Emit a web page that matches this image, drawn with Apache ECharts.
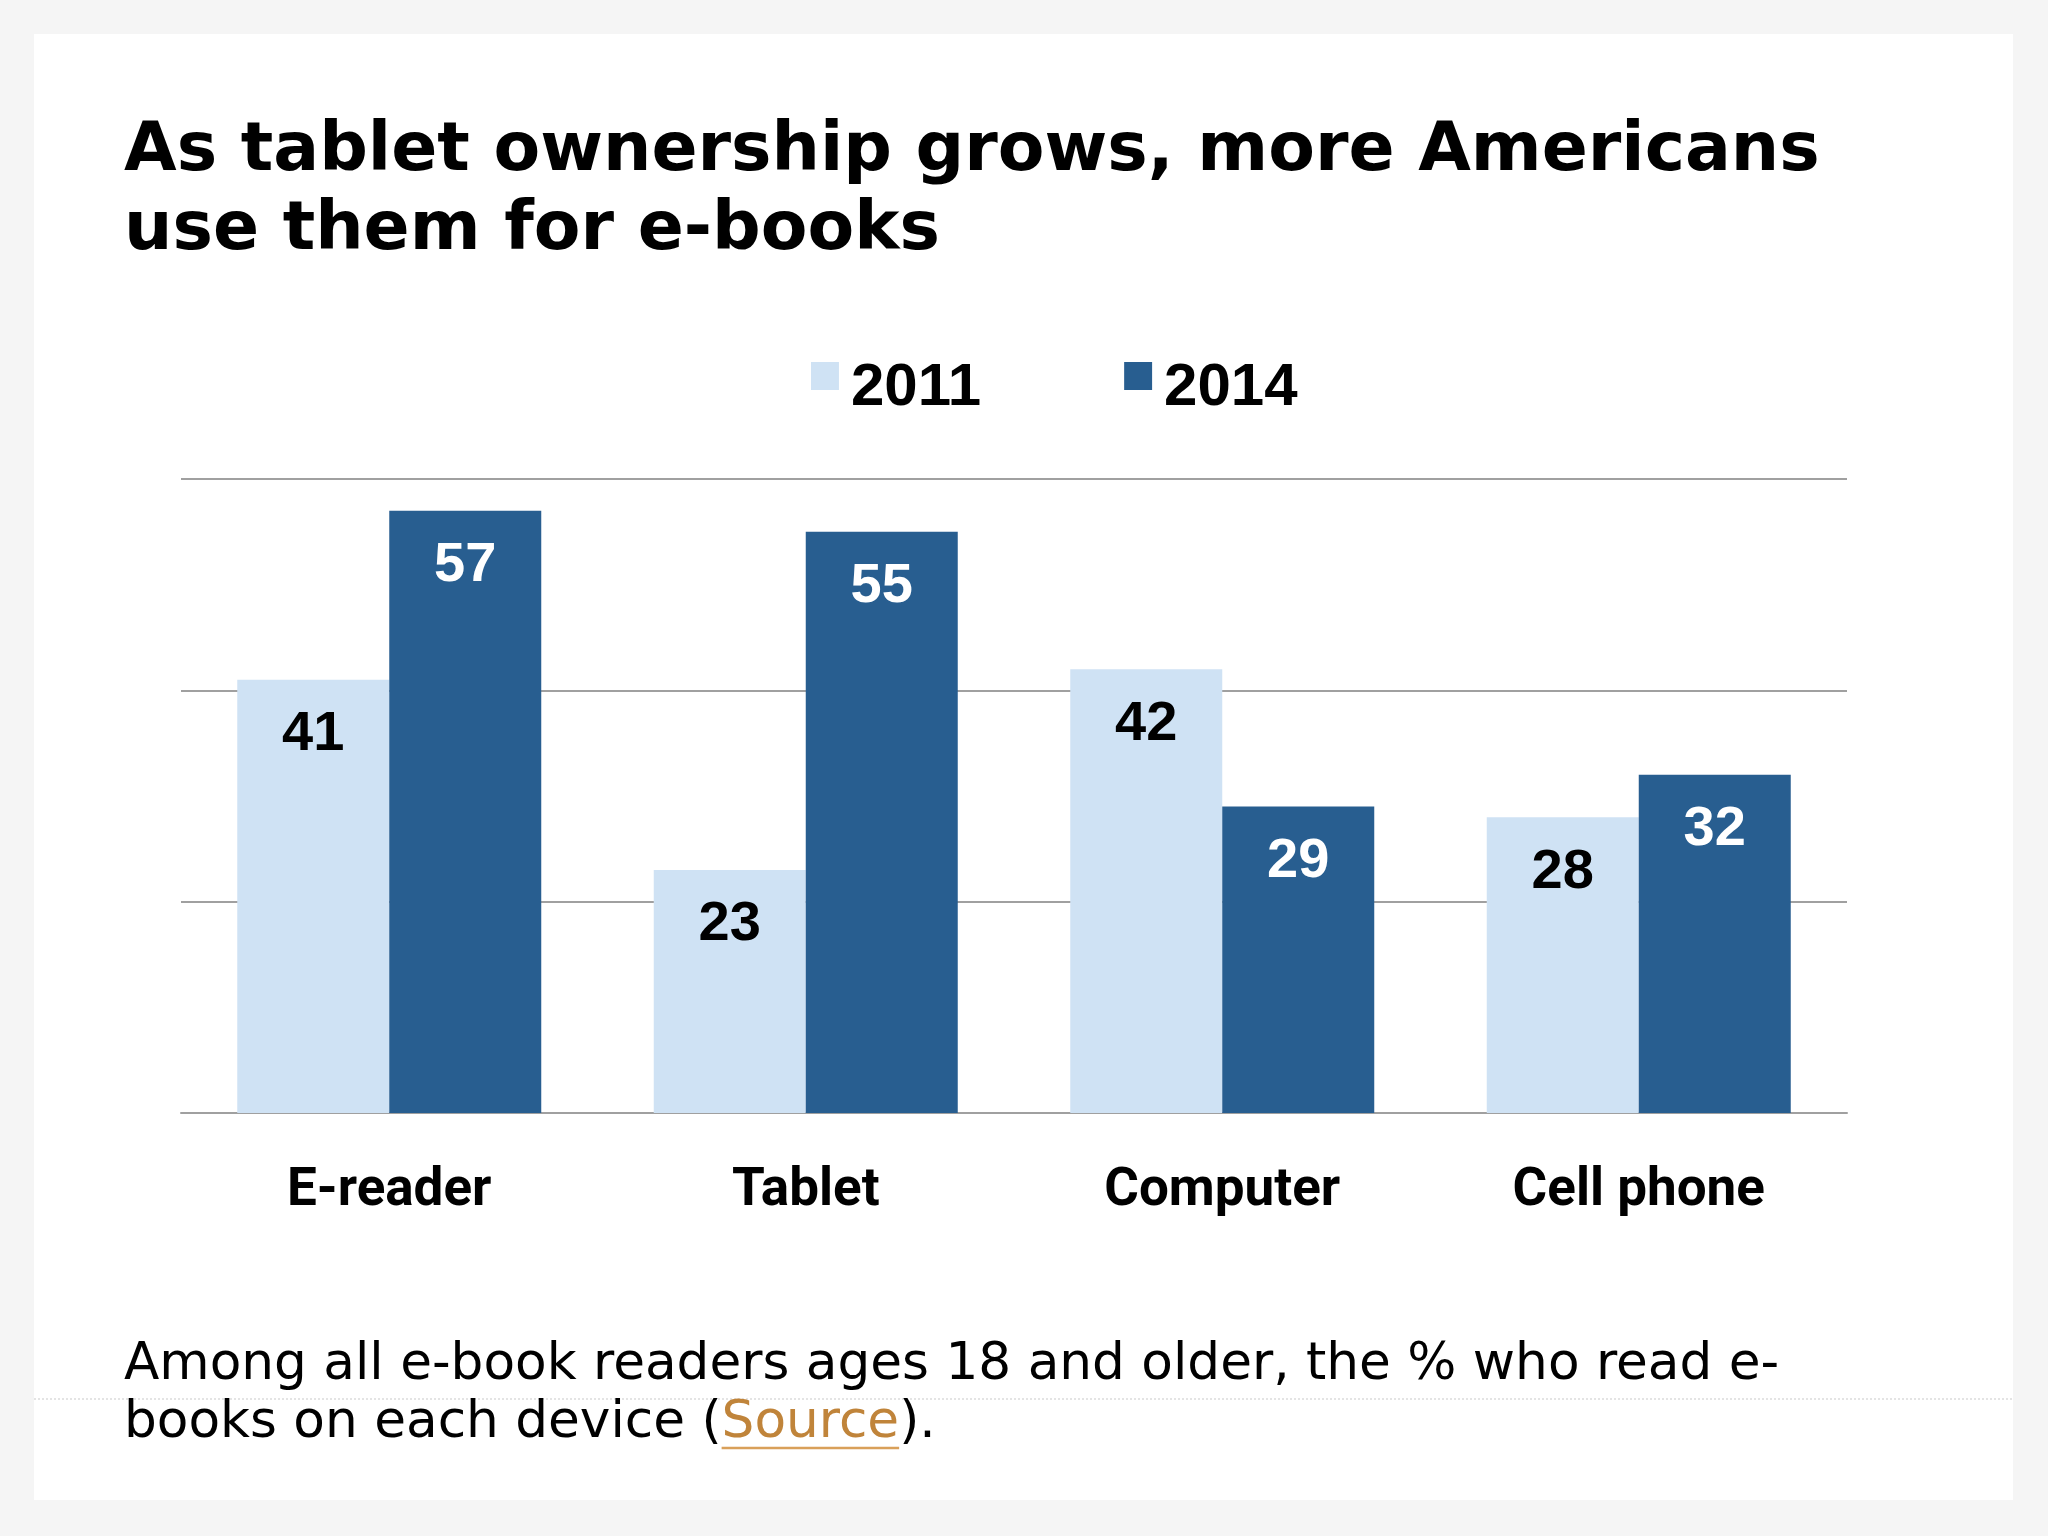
<!DOCTYPE html>
<html>
<head>
<meta charset="utf-8">
<script src="https://cdn.jsdelivr.net/npm/echarts@6/dist/echarts.min.js"></script>
<style>
html,body{margin:0;padding:0;background:#f5f5f5;}
#chart{width:2048px;height:1536px;}
</style>
</head>
<body>
<div id="chart"></div>
<script>
var categories = ['E-reader', 'Tablet', 'Computer', 'Cell phone'];
var seriesNames = ['2011', '2014'];
var values2011 = [41, 23, 42, 28];
var values2014 = [57, 55, 29, 32];
var titleText = 'As tablet ownership grows, more Americans\nuse them for e-books';
var noteLine1 = 'Among all e-book readers ages 18 and older, the % who read e-';
var noteLine2a = 'books on each device (';
var noteLink = 'Source';
var noteLine2b = ').';

var noteFont = '51.7px "DejaVu Sans"';
var cv = document.createElement('canvas').getContext('2d');
cv.font = noteFont;
var prefixW = cv.measureText(noteLine2a).width;
var linkW = cv.measureText(noteLink).width;
var noteX = 124;

var chart = echarts.init(document.getElementById('chart'));
chart.setOption({
  backgroundColor: '#f5f5f5',
  animation: false,
  graphic: [
    { type: 'rect', z: -10, shape: { x: 34, y: 34, width: 1979, height: 1466 }, style: { fill: '#ffffff' } },
    { type: 'line', z: -5, shape: { x1: 34, y1: 1399, x2: 2013, y2: 1399 }, style: { stroke: '#dcdcdc', lineWidth: 1.5, lineDash: [2, 2] } },
    { type: 'text', left: noteX, top: 1340, style: { text: noteLine1, font: noteFont, fill: '#000' } },
    { type: 'text', left: noteX, top: 1398, style: {
        text: noteLine2a + '{s|' + noteLink + '}' + noteLine2b, font: noteFont, fill: '#000',
        rich: { s: { fill: '#c0843a', font: noteFont } }
      } },
    { type: 'line', shape: { x1: noteX + prefixW, y1: 1448, x2: noteX + prefixW + linkW, y2: 1448 }, style: { stroke: '#d9a05a', lineWidth: 2.5 } }
  ],
  title: {
    text: titleText,
    left: 119,
    top: 108,
    textStyle: { fontFamily: 'DejaVu Sans', fontWeight: 'bold', fontSize: 68, lineHeight: 79, color: '#000' }
  },
  legend: {
    data: seriesNames,
    left: 806,
    top: 353,
    icon: 'path://M0,0H10V10H0Z M0,18.6',
    itemWidth: 28,
    itemHeight: 52,
    itemGap: 143,
    textStyle: { fontFamily: 'Liberation Sans', fontWeight: 'bold', fontSize: 60, color: '#000', padding: [0, 0, 0, 7] }
  },
  grid: { left: 181, right: 201, top: 479, bottom: 423, containLabel: false },
  xAxis: {
    type: 'category',
    data: categories,
    axisTick: { show: false },
    axisLine: { lineStyle: { color: '#a0a0a0', width: 2 } },
    axisLabel: { margin: 52, fontFamily: 'Roboto', fontWeight: 'bold', fontSize: 53, color: '#000' }
  },
  yAxis: {
    type: 'value',
    min: 0, max: 60, interval: 20,
    axisLabel: { show: false },
    axisLine: { show: false },
    axisTick: { show: false },
    splitLine: { lineStyle: { color: '#a0a0a0', width: 2 } }
  },
  series: [
    {
      name: seriesNames[0], type: 'bar', data: values2011, barWidth: 152, barGap: '0%',
      itemStyle: { color: '#cfe2f4' },
      label: { show: true, position: 'insideTop', distance: 27, fontFamily: 'Liberation Sans', fontWeight: 'bold', fontSize: 56, color: '#000' }
    },
    {
      name: seriesNames[1], type: 'bar', data: values2014, barWidth: 152,
      itemStyle: { color: '#285e90' },
      label: { show: true, position: 'insideTop', distance: 27, fontFamily: 'Liberation Sans', fontWeight: 'bold', fontSize: 56, color: '#fff' }
    }
  ]
});
</script>
</body>
</html>
